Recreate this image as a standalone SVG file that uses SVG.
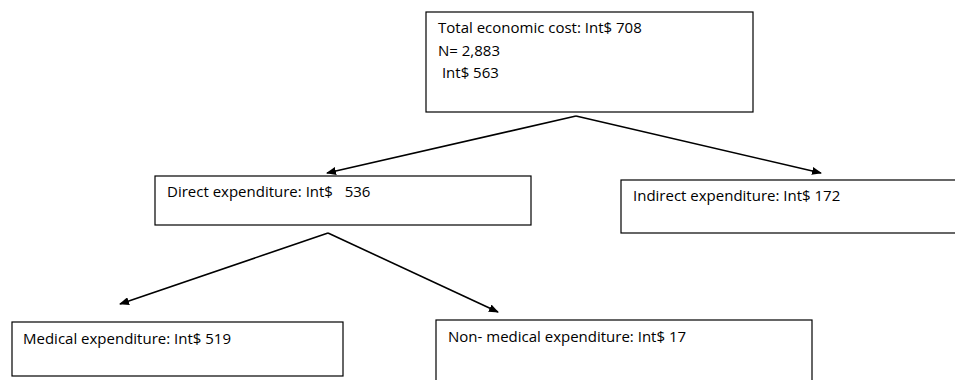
<svg xmlns="http://www.w3.org/2000/svg" width="955" height="380" viewBox="0 0 955 380">
<style>
.box{fill:#fff;stroke:#000;stroke-width:1.2}
.t{font-family:"Open Sans","Liberation Sans",sans-serif;font-size:15px;fill:#000}
.c{stroke:#000;stroke-width:1.6;fill:none;marker-end:url(#ah)}
</style>
<defs>
<marker id="ah" markerWidth="10" markerHeight="8" refX="9" refY="4" orient="auto" markerUnits="userSpaceOnUse">
<path d="M0,0 L10,4 L0,8 Z" fill="#000"/>
</marker>
</defs>
<rect width="955" height="380" fill="#fff"/>
<g id="total">
<rect class="box" x="426" y="12" width="327" height="100"/>
<text class="t" x="438" y="33">Total economic cost: Int$ 708</text>
<text class="t" x="438" y="56">N= 2,883</text>
<text class="t" x="438" y="78" xml:space="preserve"> Int$ 563</text>
</g>
<g id="direct">
<rect class="box" x="155" y="176" width="376" height="49"/>
<text class="t" x="167" y="197" xml:space="preserve">Direct expenditure: Int$   536</text>
</g>
<g id="indirect">
<rect class="box" x="621" y="180" width="340" height="53"/>
<text class="t" x="633" y="201">Indirect expenditure: Int$ 172</text>
</g>
<g id="medical">
<rect class="box" x="12" y="322" width="331" height="54"/>
<text class="t" x="23" y="344">Medical expenditure: Int$ 519</text>
</g>
<g id="nonmedical">
<rect class="box" x="436" y="320" width="376" height="70"/>
<text class="t" x="448" y="342">Non- medical expenditure: Int$ 17</text>
</g>
<g id="connectors">
<line class="c" x1="576" y1="116" x2="327" y2="173"/>
<line class="c" x1="576" y1="116" x2="821" y2="173"/>
<line class="c" x1="328" y1="233" x2="120" y2="304"/>
<line class="c" x1="328" y1="233" x2="498" y2="312"/>
</g>
</svg>
